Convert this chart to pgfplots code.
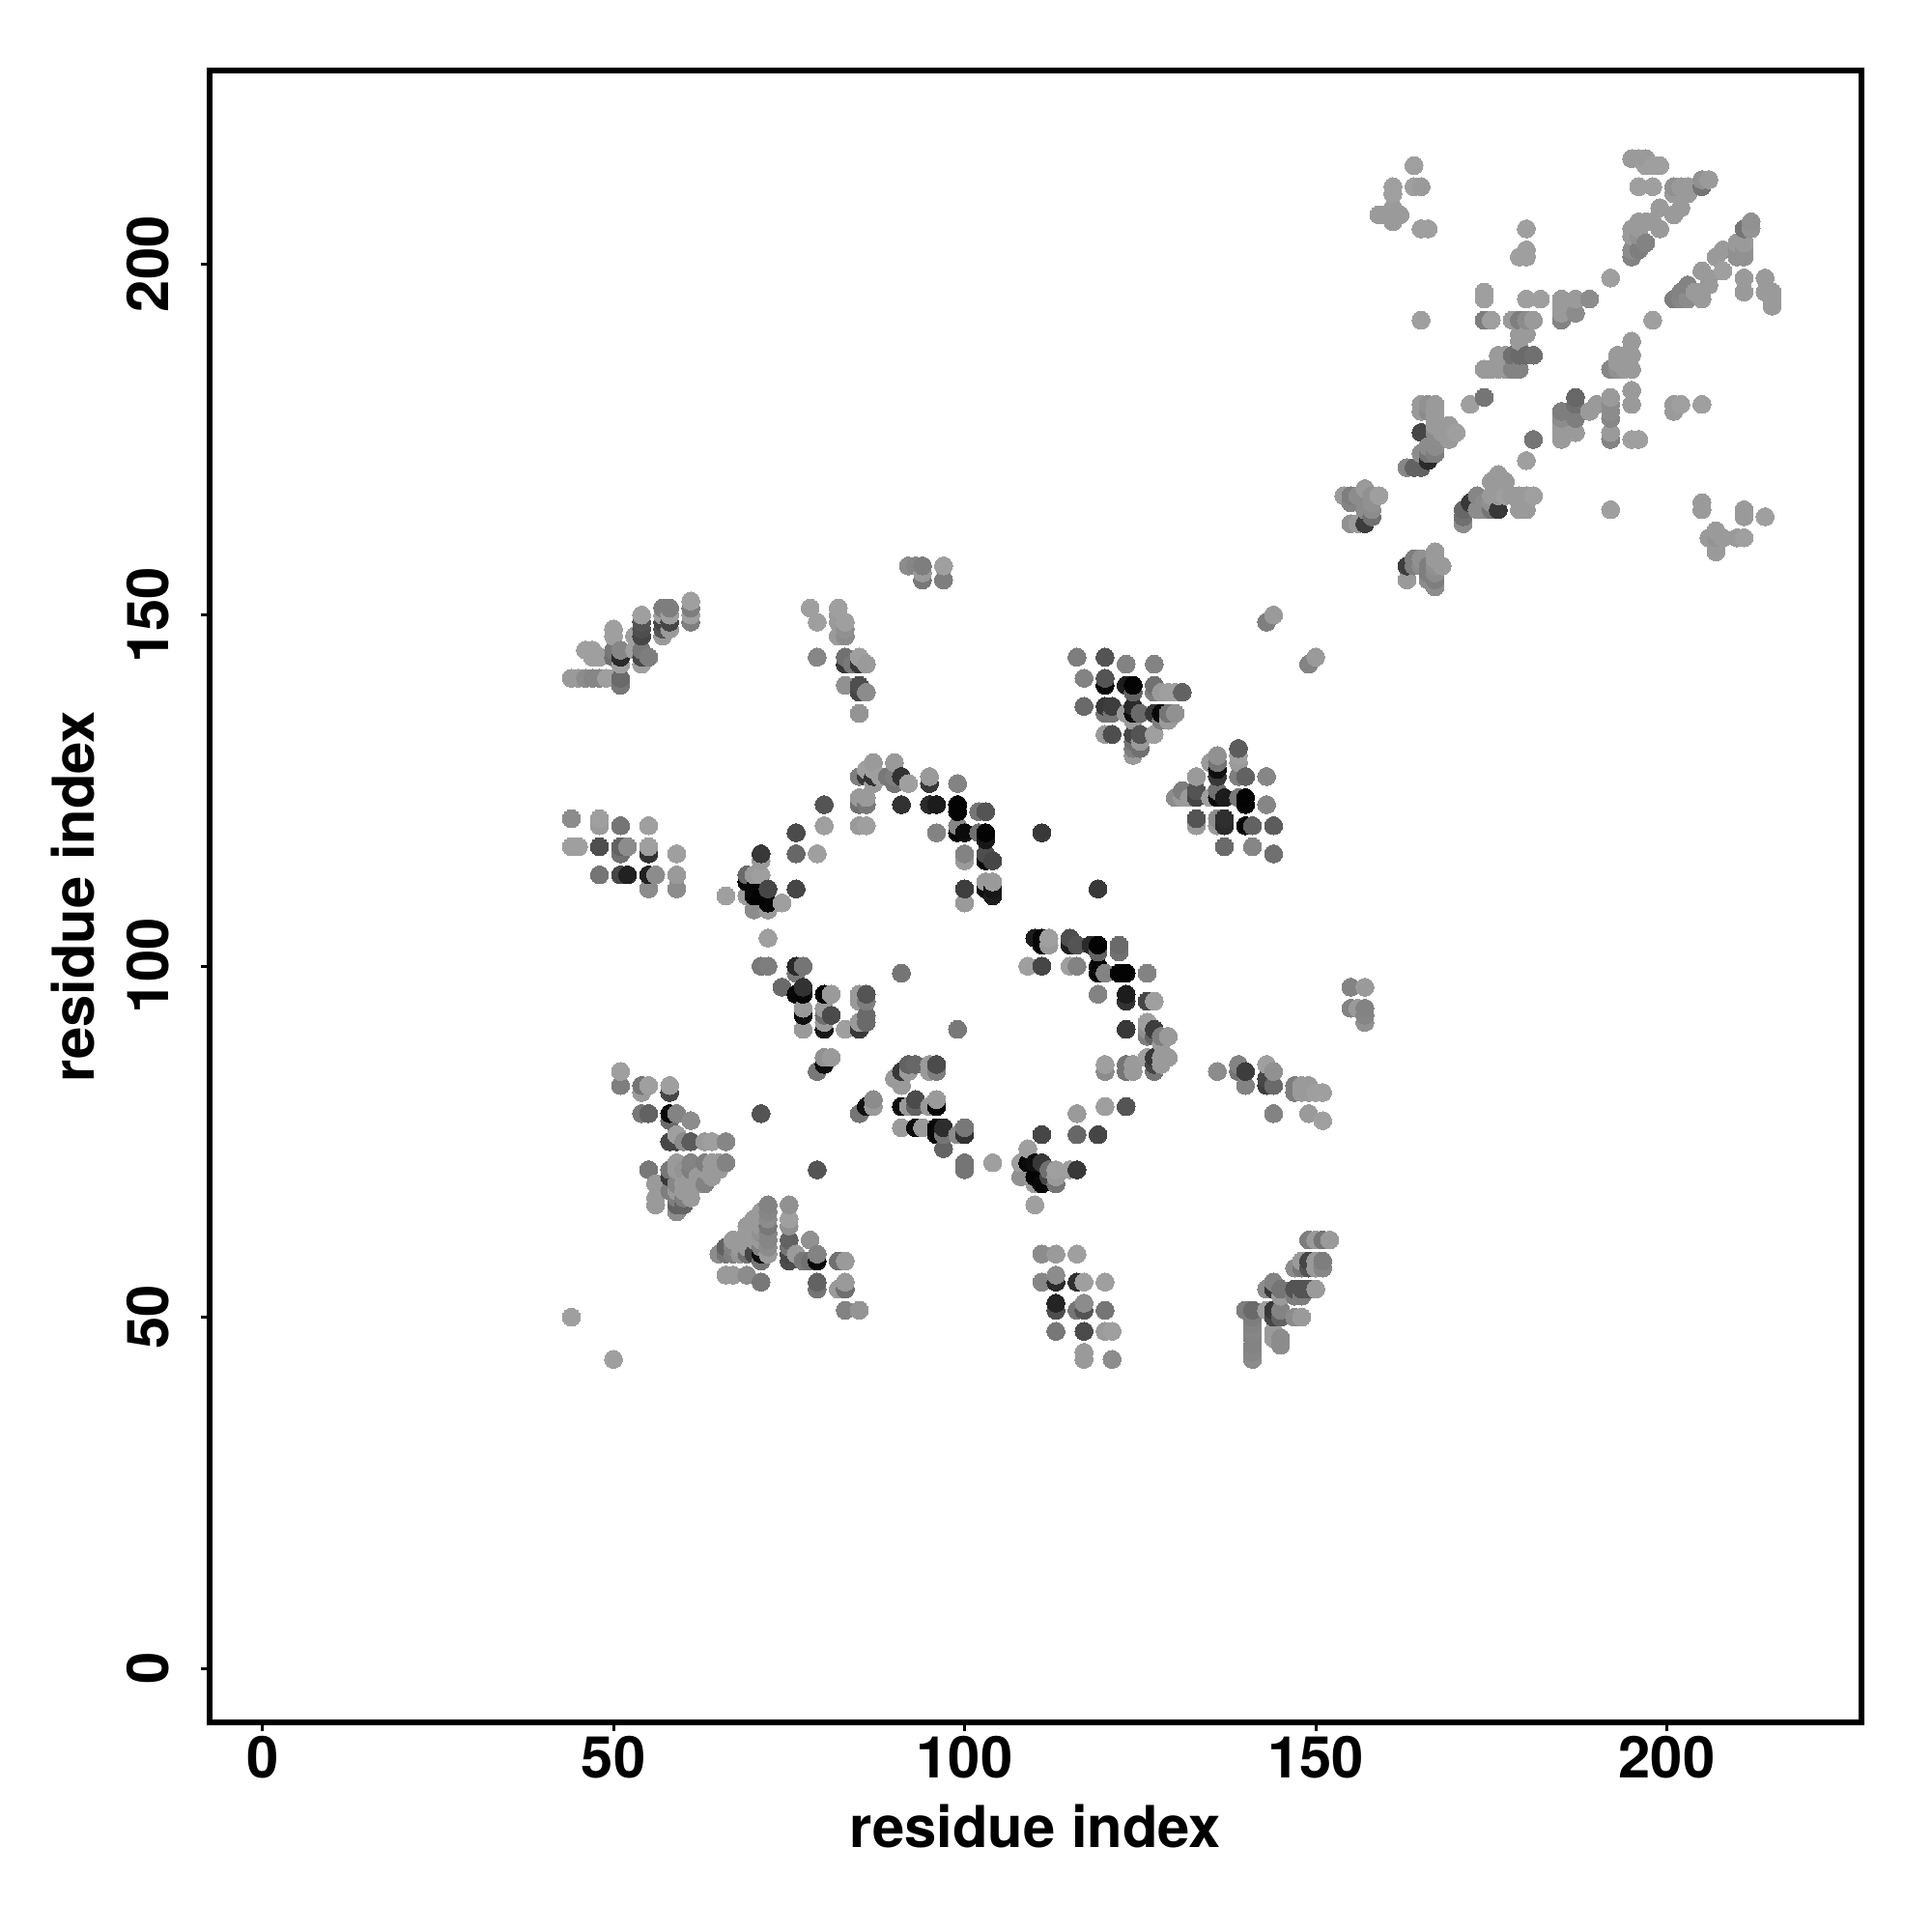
\documentclass[border=0pt]{standalone}
\usepackage{fontspec}
\setmainfont{TeX Gyre Heros}
\usepackage{pgfplots}
\pgfplotsset{compat=1.18}
\begin{document}
\begin{tikzpicture}[x=1mm,y=1mm]
\path[use as bounding box] (-21.68,-21.7) rectangle (178.32,178.3);
\begin{axis}[
  at={(0,0)},anchor=south west,
  scale only axis,width=171mm,height=171mm,
  xmin=-7.55,xmax=227.7,ymin=-7.7,ymax=227.55,
  xtick={0,50,100,150,200},ytick={0,50,100,150,200},
  tick align=outside,tick pos=left,
  axis line style={line width=0.65mm,black},
  major tick style={line width=0.3mm,black},
  major tick length=0.9mm,
  /pgf/number format/assume math mode=true,
  ticklabel style={font=\fontsize{17}{20}\selectfont\bfseries},
  xticklabel style={yshift=0.7mm},
  yticklabel style={rotate=90,anchor=south,xshift=0mm,yshift=2mm},
  xlabel={residue index},ylabel={residue index},
  label style={font=\fontsize{17}{20}\selectfont\bfseries},
  xlabel style={at={(axis description cs:0.5,0)},anchor=north,yshift=-7.3mm},
  ylabel style={at={(axis description cs:0,0.5)},anchor=south,rotate=0,xshift=0mm,yshift=10.6mm},
  axis on top,clip=false,
  colormap/blackwhite,point meta min=0,point meta max=0.92,
]
\addplot[scatter,only marks,mark=*,mark size=2.65pt,
  scatter/use mapped color={draw=mapped color,fill=mapped color},
  mark options={line width=0pt},point meta=explicit]
coordinates {
(44,50)[.57] (50,44)[.57]
(44,141)[.55] (45,141)[.55] (46,141)[.5] (46,145)[.57] (47,141)[.48] (47,144)[.57] (47,145)[.57] (48,141)[.48] (48,144)[.57]
(49,141)[.57] (50,141)[.57] (50,144)[.4] (50,145)[.43] (50,147)[.57] (50,148)[.57] (51,140)[.43] (51,141)[.38] (51,143)[.57] (51,144)[.15] (51,145)[.48]
(53,145)[.57] (53,147)[.57] (54,143)[.57] (54,144)[.25] (54,145)[.43] (54,147)[.25] (54,148)[.28] (54,149)[.3] (54,150)[.57] (55,144)[.45]
(57,147)[.55] (57,148)[.3] (57,149)[.25] (57,150)[.57] (57,151)[.45] (58,148)[.55] (58,149)[.25] (58,150)[.57] (58,151)[.45] (61,149)[.45] (61,150)[.57] (61,151)[.45] (61,152)[.57]
(92,157)[.5] (93,157)[.48] (94,155)[.43] (94,156)[.55] (94,157)[.45] (97,155)[.45] (97,157)[.57]
(78,151)[.57] (79,144)[.48] (79,149)[.57] (82,147)[.55] (82,149)[.55] (82,150)[.55] (82,151)[.57] (83,140)[.52] (83,143)[.2] (83,144)[.4] (83,147)[.5] (83,148)[.52] (83,149)[.57]
(84,143)[.43] (85,136)[.53] (85,139)[.25] (85,140)[.28] (85,143)[.2] (85,144)[.57] (86,139)[.5] (86,143)[.55]
(143,149)[.45] (144,150)[.55] (149,143)[.47] (150,144)[.55]
(44,117)[.57] (44,121)[.5] (45,117)[.57] (48,113)[.42] (48,117)[.28] (48,120)[.55] (48,121)[.57] (51,113)[.25] (51,116)[.4] (51,117)[.35] (51,120)[.42] (52,113)[.12] (52,117)[.5]
(55,111)[.5] (55,113)[.12] (55,116)[.18] (55,117)[.57] (55,120)[.57] (56,113)[.5] (59,111)[.5] (59,113)[.55] (59,116)[.57]
(66,110)[.57] (69,110)[.55] (69,112)[.03] (69,113)[.38] (70,108)[.5] (70,110)[.01] (70,111)[.03] (70,113)[.55] (71,110)[.01] (71,113)[.57] (71,115)[.55] (71,116)[.2]
(72,108)[.55] (72,109)[.02] (72,111)[.25] (74,109)[.57] (76,111)[.25] (76,116)[.37] (76,119)[.27] (79,116)[.57] (80,120)[.57] (80,123)[.3]
(85,120)[.55] (85,123)[.4] (85,124)[.55] (85,127)[.45] (86,120)[.57] (86,123)[.43] (86,124)[.55] (86,127)[.2] (86,128)[.57]
(87,126)[.55] (87,127)[.18] (87,128)[.57] (87,129)[.55] (88,127)[.57] (89,127)[.43] (90,126)[.42] (90,127)[.45] (90,129)[.55]
(91,123)[.18] (91,127)[.18] (92,126)[.57] (95,123)[.15] (95,126)[.2] (95,127)[.55] (96,119)[.47] (96,123)[.1] (99,119)[.02] (99,120)[.48] (99,122)[.01] (99,123)[.01] (99,126)[.47]
(100,109)[.55] (100,111)[.22] (100,115)[.55] (100,116)[.47] (100,119)[.04] (102,119)[.4] (102,122)[.42] (103,111)[.04] (103,112)[.55] (103,115)[.03] (103,116)[.28] (103,118)[.08] (103,119)[.01] (103,122)[.3]
(104,110)[.1] (104,111)[.08] (104,112)[.55] (104,115)[.25]
(111,119)[.2] (119,111)[.2]
(72,104)[.57] (71,100)[.43] (72,100)[.45] (74,97)[.38] (76,96)[.03] (76,99)[.43] (76,100)[.15] (77,91)[.55] (77,93)[.05] (77,94)[.55] (77,96)[.02] (77,97)[.18] (77,100)[.42]
(80,91)[.08] (80,92)[.55] (80,93)[.4] (80,94)[.55] (80,96)[.01] (81,93)[.27] (81,96)[.55] (83,91)[.57] (85,91)[.2] (85,92)[.55] (85,95)[.55] (85,96)[.55]
(86,92)[.38] (86,93)[.38] (86,95)[.45] (86,96)[.3] (91,99)[.42] (99,91)[.43]
(116,144)[.45] (117,137)[.38] (117,141)[.47] (120,133)[.55] (120,136)[.42] (120,137)[.2] (120,140)[.03] (120,141)[.3] (120,144)[.3] (121,133)[.28] (121,136)[.42] (121,137)[.22]
(123,136)[.55] (123,140)[.1] (123,143)[.47] (124,130)[.55] (124,131)[.45] (124,132)[.4] (124,133)[.25] (124,135)[.55] (124,136)[.05] (124,137)[.15] (124,139)[.35] (124,140)[.01]
(125,131)[.4] (125,132)[.55] (125,133)[.3] (125,136)[.38] (127,133)[.57] (127,136)[.2] (127,139)[.45] (127,140)[.4] (127,143)[.47] (128,135)[.45] (128,136)[.03] (128,139)[.55]
(129,135)[.55] (129,136)[.42] (129,139)[.57] (130,124)[.5] (130,136)[.52] (130,139)[.57] (131,124)[.55] (131,125)[.45] (131,139)[.35]
(132,124)[.55] (133,120)[.55] (133,121)[.3] (133,124)[.25] (133,125)[.3] (133,127)[.55] (135,124)[.57] (135,129)[.55]
(136,120)[.55] (136,121)[.5] (136,124)[.03] (136,125)[.4] (136,127)[.2] (136,128)[.05] (136,129)[.42] (136,130)[.52]
(137,117)[.38] (137,120)[.15] (137,121)[.17] (137,124)[.1] (139,124)[.43] (139,127)[.45] (139,129)[.55] (139,130)[.57] (139,131)[.33]
(140,120)[.02] (140,123)[.02] (140,124)[.01] (140,127)[.35] (141,117)[.48] (141,120)[.35] (143,123)[.48] (143,127)[.48] (144,116)[.4] (144,120)[.33]
(108,70)[.52] (108,72)[.57] (109,72)[.03] (109,74)[.57] (109,100)[.57] (110,66)[.57] (110,69)[.55] (110,70)[.01] (110,72)[.05] (110,104)[.1] (111,69)[.03] (111,72)[.2] (111,76)[.25] (111,100)[.25] (111,103)[.03] (111,104)[.02]
(112,70)[.25] (112,71)[.4] (112,103)[.55] (112,104)[.57] (113,69)[.42] (113,70)[.55] (113,71)[.57] (115,71)[.57] (115,100)[.57] (115,103)[.1] (115,104)[.28] (116,71)[.2] (116,76)[.37] (116,79)[.55] (116,100)[.47] (116,103)[.3]
(118,103)[.15] (119,76)[.25] (119,96)[.47] (119,99)[.02] (119,100)[.02] (119,102)[.35] (119,103)[.01] (120,80)[.57] (120,85)[.5] (120,86)[.57] (120,99)[.47]
(122,99)[.01] (122,102)[.4] (122,103)[.38] (123,80)[.3] (123,85)[.42] (123,86)[.42] (123,91)[.2] (123,95)[.18] (123,96)[.1] (123,99)[.01] (124,85)[.55] (124,86)[.55]
(126,87)[.57] (126,90)[.45] (126,91)[.52] (126,92)[.57] (126,95)[.25] (126,99)[.47] (127,85)[.42] (127,86)[.25] (127,87)[.2] (127,90)[.35] (127,91)[.22] (127,95)[.57]
(128,86)[.55] (128,87)[.55] (128,89)[.55] (128,90)[.45] (129,87)[.55] (129,90)[.55]
(136,85)[.5] (139,85)[.42] (139,86)[.47] (140,83)[.47] (140,85)[.22] (143,83)[.22] (143,84)[.25] (143,86)[.57] (144,79)[.47] (144,83)[.38] (144,85)[.52]
(147,82)[.45] (147,83)[.45] (148,82)[.55] (148,83)[.55] (149,79)[.55] (149,82)[.55] (149,83)[.55] (150,82)[.57] (151,78)[.57] (151,82)[.57]
(155,94)[.47] (155,97)[.47] (156,94)[.55] (157,92)[.52] (157,93)[.48] (157,94)[.47] (157,97)[.55]
(51,83)[.45] (51,85)[.57] (54,79)[.43] (54,82)[.55] (54,83)[.42] (55,71)[.43] (55,79)[.35] (55,83)[.57] (56,66)[.55] (56,67)[.55] (56,69)[.55]
(58,68)[.45] (58,70)[.2] (58,71)[.43] (58,75)[.25] (58,78)[.38] (58,79)[.03] (58,82)[.25] (58,83)[.57]
(59,65)[.5] (59,66)[.35] (59,67)[.45] (59,68)[.55] (59,69)[.48] (59,71)[.55] (59,72)[.55] (59,75)[.25] (59,76)[.57] (59,79)[.47]
(60,66)[.36] (60,67)[.45] (60,68)[.55] (60,69)[.55] (60,70)[.55] (60,71)[.53] (60,75)[.5] (61,67)[.55] (61,68)[.55] (61,70)[.55] (61,71)[.45] (61,72)[.47] (61,75)[.33] (61,78)[.5]
(62,70)[.55] (63,69)[.47] (63,71)[.55] (63,72)[.45] (63,75)[.55] (64,70)[.55] (64,71)[.55] (64,72)[.55] (64,75)[.57] (65,71)[.55] (65,72)[.55] (66,72)[.47] (66,75)[.48]
(71,79)[.3] (79,71)[.3]
(65,59)[.5] (66,56)[.55] (66,59)[.42] (66,60)[.35] (67,56)[.55] (67,59)[.45] (67,60)[.47] (67,61)[.55] (68,59)[.53] (68,60)[.55] (68,61)[.55]
(69,56)[.5] (69,59)[.4] (69,60)[.55] (69,61)[.55] (69,63)[.55] (70,59)[.25] (70,61)[.55] (70,63)[.55] (70,64)[.55]
(71,55)[.43] (71,58)[.42] (71,59)[.05] (71,60)[.47] (71,61)[.55] (71,62)[.52] (71,63)[.55] (71,64)[.55] (71,65)[.55]
(72,59)[.55] (72,60)[.5] (72,61)[.48] (72,62)[.48] (72,63)[.43] (72,64)[.5] (72,65)[.48] (72,66)[.47]
(75,58)[.27] (75,59)[.25] (75,60)[.42] (75,61)[.35] (75,63)[.52] (75,64)[.57] (75,66)[.52] (76,59)[.55] (77,58)[.43] (78,58)[.4] (78,61)[.52]
(79,54)[.42] (79,55)[.35] (79,58)[.03] (79,59)[.47] (82,54)[.55] (82,58)[.4] (83,51)[.47] (83,54)[.4] (83,55)[.55] (83,58)[.55] (85,51)[.53]
(79,85)[.43] (80,86)[.05] (80,87)[.52] (81,87)[.55]
(85,79)[.42] (86,80)[.06] (87,80)[.55] (87,81)[.5]
(90,84)[.55] (91,77)[.55] (91,80)[.05] (91,83)[.55] (91,85)[.2] (92,80)[.55] (92,85)[.55] (92,86)[.35] (93,77)[.05] (93,80)[.35] (93,81)[.27] (93,86)[.37]
(94,77)[.55] (95,80)[.55] (95,85)[.55] (95,86)[.55] (96,76)[.03] (96,77)[.03] (96,80)[.02] (96,81)[.55] (96,85)[.45] (96,86)[.27]
(97,74)[.36] (97,76)[.42] (97,77)[.16] (99,76)[.5] (100,71)[.42] (100,72)[.42] (100,76)[.18] (100,77)[.43] (104,72)[.57]
(111,55)[.48] (111,59)[.5] (113,48)[.43] (113,51)[.28] (113,52)[.13] (113,55)[.15] (113,56)[.5] (113,59)[.55]
(116,51)[.42] (116,55)[.17] (116,59)[.57] (117,44)[.55] (117,45)[.55] (117,48)[.27] (117,51)[.3] (117,52)[.5] (117,55)[.57] (120,48)[.55] (120,51)[.42] (120,55)[.57] (121,44)[.5] (121,48)[.57]
(140,51)[.45] (141,44)[.5] (141,45)[.48] (141,46)[.47] (141,47)[.47] (141,48)[.48] (141,49)[.47] (141,50)[.45] (141,51)[.38]
(143,51)[.57] (143,54)[.5] (144,47)[.55] (144,48)[.55] (144,50)[.25] (144,51)[.2] (144,54)[.2] (144,55)[.47] (145,46)[.5] (145,47)[.5] (145,50)[.35] (145,51)[.47] (145,53)[.55] (145,54)[.42]
(147,50)[.5] (147,53)[.45] (147,54)[.3] (147,57)[.5] (148,50)[.55] (148,53)[.45] (148,54)[.3] (148,57)[.43] (148,58)[.55]
(149,54)[.3] (149,57)[.3] (149,58)[.25] (149,61)[.45] (150,54)[.55] (150,57)[.55] (150,58)[.55] (150,61)[.55] (151,57)[.48] (151,58)[.45] (151,61)[.42] (152,61)[.55]
(154,167)[.55] (155,163)[.52] (155,166)[.47] (155,167)[.45] (156,163)[.55] (156,167)[.5] (157,163)[.22] (157,165)[.5] (157,166)[.5] (157,167)[.5] (157,168)[.55] (158,164)[.4] (158,165)[.5] (158,166)[.52] (158,167)[.52] (159,167)[.57]
(159,207)[.55] (160,207)[.55] (161,206)[.55] (161,207)[.55] (161,208)[.55] (161,210)[.57] (161,211)[.57] (162,207)[.55] (164,211)[.57] (165,211)[.55] (164,214)[.57] (165,205)[.57] (166,205)[.57] (165,192)[.57]
(163,155)[.55] (163,157)[.22] (164,157)[.45] (164,158)[.45] (165,157)[.5] (165,158)[.52] (166,155)[.5] (166,156)[.45] (166,157)[.45] (167,154)[.5] (167,155)[.45] (167,156)[.5] (167,157)[.52] (167,158)[.55] (167,159)[.55] (168,157)[.55]
(163,171)[.48] (164,171)[.35] (165,171)[.35] (165,173)[.5] (165,176)[.25] (165,179)[.55] (165,180)[.55] (166,172)[.15] (166,173)[.42] (166,174)[.5] (166,179)[.5] (166,180)[.52]
(167,173)[.45] (167,174)[.5] (167,176)[.5] (167,177)[.55] (167,178)[.55] (167,179)[.55] (167,180)[.55] (168,176)[.55] (169,175)[.55] (169,177)[.55] (170,176)[.57]
(171,163)[.5] (171,164)[.4] (171,165)[.37] (172,166)[.2] (172,180)[.57] (173,165)[.5] (173,167)[.48] (174,165)[.5] (174,166)[.5] (174,181)[.42]
(174,185)[.55] (174,192)[.45] (174,195)[.57] (174,196)[.57] (175,165)[.42] (175,166)[.52] (175,167)[.55] (175,169)[.55] (175,185)[.55] (175,192)[.57]
(176,165)[.2] (176,167)[.55] (176,170)[.55] (176,185)[.55] (176,187)[.55] (177,167)[.57] (177,169)[.55] (177,185)[.55] (177,187)[.55]
(178,167)[.55] (178,185)[.47] (178,187)[.4] (178,192)[.55] (179,165)[.55] (179,166)[.55] (179,167)[.55] (179,185)[.47] (179,187)[.38] (179,189)[.55] (179,190)[.55] (179,192)[.45] (179,201)[.57]
(180,165)[.55] (180,166)[.55] (180,167)[.55] (180,172)[.57] (180,187)[.38] (180,190)[.55] (180,192)[.5] (180,195)[.57] (180,201)[.57] (180,202)[.57] (180,205)[.57]
(181,167)[.57] (181,175)[.42] (181,187)[.4] (181,192)[.55] (182,195)[.57] (185,175)[.55] (185,176)[.55] (185,177)[.55] (185,178)[.5] (185,179)[.45]
(185,192)[.47] (185,193)[.55] (185,194)[.55] (185,195)[.55] (187,176)[.55] (187,178)[.45] (187,180)[.4] (187,181)[.37] (187,193)[.5] (187,195)[.55] (189,179)[.55] (189,195)[.5] (190,180)[.55]
(192,165)[.57] (192,175)[.47] (192,176)[.55] (192,178)[.48] (192,179)[.5] (192,180)[.5] (192,181)[.55] (192,185)[.48] (192,198)[.57] (193,185)[.52] (193,186)[.55] (193,187)[.55] (194,185)[.55] (194,187)[.55] (195,175)[.57] (195,180)[.55] (195,182)[.55] (195,185)[.55] (195,187)[.55] (195,189)[.55] (196,175)[.57]
(195,201)[.47] (195,202)[.5] (195,204)[.55] (195,205)[.55] (195,215)[.55] (196,202)[.45] (196,204)[.52] (196,205)[.55] (196,206)[.55] (196,211)[.57] (196,215)[.55] (197,203)[.47] (197,206)[.55] (197,214)[.57] (197,215)[.55] (198,192)[.57] (198,206)[.55] (198,211)[.57] (198,214)[.57] (199,205)[.55] (199,208)[.55] (199,214)[.57]
(201,179)[.55] (201,180)[.55] (201,195)[.45] (201,207)[.55] (201,210)[.55] (201,211)[.52] (202,180)[.57] (202,195)[.48] (202,196)[.47] (202,208)[.55] (202,211)[.55] (203,195)[.5] (203,197)[.47] (203,210)[.55] (203,211)[.55] (204,196)[.55]
(205,165)[.55] (205,166)[.55] (205,180)[.57] (205,195)[.55] (205,196)[.55] (205,199)[.55] (205,211)[.42] (205,212)[.52] (206,161)[.55] (206,197)[.55] (206,198)[.55] (206,212)[.55]
(207,159)[.55] (207,160)[.55] (207,161)[.53] (207,162)[.55] (207,201)[.55] (208,161)[.55] (208,199)[.57] (208,202)[.55] (210,161)[.55] (210,201)[.52] (210,202)[.52] (210,203)[.55]
(211,161)[.57] (211,164)[.55] (211,165)[.55] (211,196)[.55] (211,198)[.55] (211,201)[.52] (211,202)[.52] (211,203)[.55] (211,205)[.42] (212,205)[.53] (212,206)[.52]
(214,164)[.57] (214,196)[.55] (214,198)[.55] (215,194)[.55] (215,195)[.55] (215,196)[.55]
};
\end{axis}
\end{tikzpicture}
\end{document}
